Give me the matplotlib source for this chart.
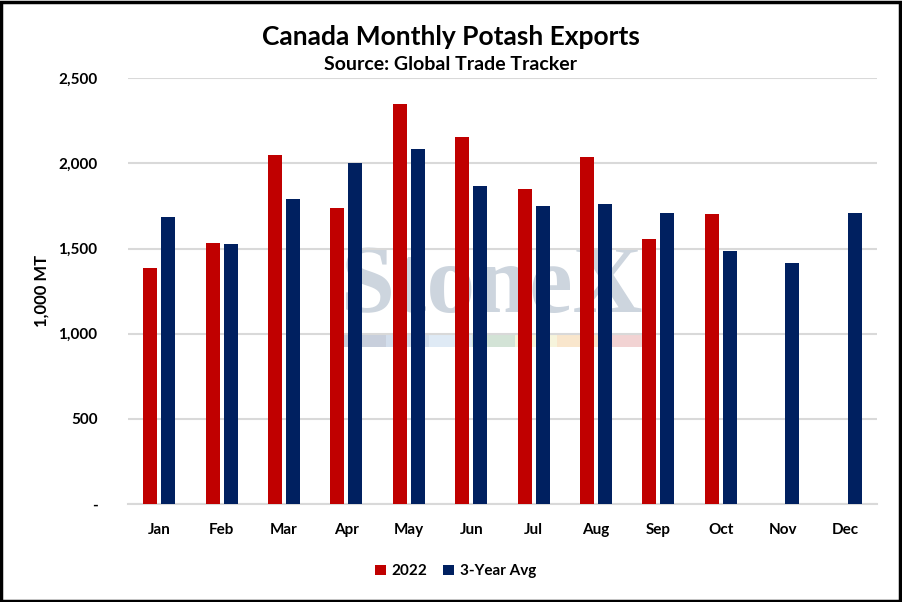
import matplotlib.pyplot as plt
import numpy as np
from matplotlib.patches import Rectangle

months = ["Jan", "Feb", "Mar", "Apr", "May", "Jun", "Jul", "Aug", "Sep", "Oct", "Nov", "Dec"]
exports_2022 = [1383, 1532, 2048, 1737, 2347, 2154, 1849, 2036, 1555, 1702, None, None]
avg_3yr = [1684, 1526, 1790, 2001, 2083, 1866, 1749, 1760, 1708, 1485, 1414, 1708]
yticks = [0, 500, 1000, 1500, 2000, 2500]
ytick_labels = ["-", "500", "1,000", "1,500", "2,000", "2,500"]

red = "#C00000"
navy = "#002060"
font = ["Liberation Sans Narrow", "Lato", "DejaVu Sans"]

fig = plt.figure(figsize=(9.02, 6.02), dpi=100)
ax = fig.add_axes([0.142, 0.163, 0.830, 0.707])

x = np.arange(len(months))
w = 0.224
off = 0.144
vals22 = [np.nan if v is None else v for v in exports_2022]
ax.bar(x - off, vals22, w, color=red, label="2022", zorder=3)
ax.bar(x + off, avg_3yr, w, color=navy, label="3-Year Avg", zorder=3)

ax.set_xlim(-0.5, len(months) - 0.5)
ax.set_ylim(0, 2500)
ax.set_yticks(yticks)
ax.set_yticklabels(ytick_labels)
ax.set_xticks(x)
ax.set_xticklabels(months)
for lab in ax.get_xticklabels() + ax.get_yticklabels():
    lab.set_fontfamily("Lato")
    lab.set_fontweight("bold")
    lab.set_fontsize(11)
ax.tick_params(length=0, pad=14, axis="x")
ax.tick_params(length=0, pad=22, axis="y")
ax.grid(axis="y", color="#D9D9D9", lw=1.5, zorder=0)
for s in ["top", "right", "left"]:
    ax.spines[s].set_visible(False)
ax.spines["bottom"].set_color("#D9D9D9")
ax.spines["bottom"].set_linewidth(1.5)
ax.set_ylabel("1,000 MT", fontfamily="Lato", fontweight="bold", fontsize=12, labelpad=6)

# watermark
ax.text(0.487, 0.451, "StoneX", transform=ax.transAxes, ha="center", va="baseline",
        fontsize=70, fontweight="bold", family=["Liberation Serif", "DejaVu Serif"],
        color="#CDD5DE", zorder=1)
stripe = ["#C8CFDC", "#D3DEEC", "#DFEAF5", "#D3E3D6", "#F6F4DC", "#F9E6CC", "#F2D3D3"]
for i, c in enumerate(stripe):
    ax.add_patch(Rectangle((0.287 + i * 0.0573, 0.3685), 0.0573, 0.0285, transform=ax.transAxes,
                           color=c, zorder=1, lw=0))

fig.text(0.5, 0.938, "Canada Monthly Potash Exports", ha="center", va="center",
         family=font, fontweight="bold", fontsize=19)
fig.text(0.5, 0.893, "Source: Global Trade Tracker", ha="center", va="center",
         family=font, fontweight="bold", fontsize=14)

leg = fig.legend(loc="center", bbox_to_anchor=(0.505, 0.051), ncol=2, frameon=False,
                 handlelength=0.7, handleheight=0.7, handletextpad=0.4, columnspacing=1.0,
                 prop={"family": "Lato", "weight": "bold", "size": 11})

fig.add_artist(Rectangle((0.001, 0.001), 0.997, 0.996, transform=fig.transFigure,
                         fill=False, edgecolor="black", lw=2.5))

fig.savefig("out.png", dpi=100)
